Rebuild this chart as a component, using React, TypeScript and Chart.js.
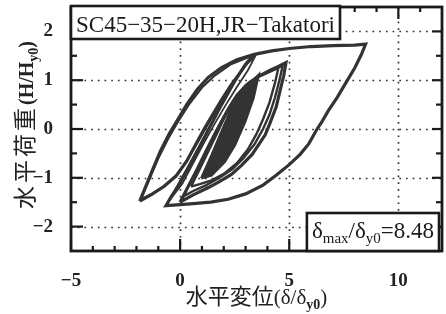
import { useEffect, useRef } from 'react';
import { Chart, registerables } from 'chart.js';
Chart.register(...registerables);

// Axis ticks
const xTickLabels = [-5, 0, 5, 10];
const yTickLabels = [-2, -1, 0, 1, 2];
const xMinorTicks = [-4, -3, -2, -1, 1, 2, 3, 4, 6, 7, 8, 9, 11];
const yMinorTicks = [-1.5, -0.5, 0.5, 1.5];
const xGrid = [0, 5, 10];
const yGrid = [-2, -1, 0, 1, 2];

// Loop A: left loop outer + big excursion to 8.48
const loopAX = [-1.85, -1.55, -1.25, -0.9, -0.5, -0.1, 0.3, 0.8, 1.3, 1.9, 2.6, 3.4,
  4.2, 5.0, 6.0, 7.0, 8.0, 8.5,
  8.3, 8.0, 7.6, 7.2, 6.8, 6.5, 6.25, 5.9, 5.5, 5.0, 4.4, 3.8, 3.0, 2.2, 1.4, 0.6, 0.0, -0.65,
  -0.4, -0.1, 0.35, 0.82, 1.35, 1.9, 2.5, 3.0, 3.4,
  3.1, 2.7, 2.3, 1.9, 1.5, 1.1, 0.7, 0.3, -0.2, -0.75, -1.3, -1.85];
const loopAY = [-1.48, -1.15, -0.82, -0.45, -0.1, 0.2, 0.5, 0.82, 1.06, 1.26, 1.42, 1.53,
  1.6, 1.65, 1.69, 1.71, 1.72, 1.74,
  1.52, 1.25, 0.95, 0.65, 0.38, 0.15, -0.02, -0.3, -0.52, -0.73, -0.95, -1.15, -1.33, -1.44, -1.5, -1.53, -1.55, -1.57,
  -1.38, -1.18, -0.82, -0.43, 0.03, 0.5, 0.98, 1.33, 1.53,
  1.38, 1.12, 0.88, 0.6, 0.3, 0.0, -0.33, -0.66, -0.97, -1.18, -1.34, -1.48];

// Loop B: second left loop
const loopBX = [-1.8, -1.4, -1.0, -0.55, -0.1, 0.4, 1.0, 1.6, 2.3, 3.3,
  2.9, 2.4, 1.9, 1.4, 0.9, 0.4, -0.1, -0.7, -1.25, -1.8];
const loopBY = [-1.44, -1.02, -0.6, -0.2, 0.15, 0.5, 0.85, 1.1, 1.32, 1.5,
  1.25, 0.95, 0.58, 0.2, -0.2, -0.58, -0.92, -1.17, -1.32, -1.44];

// Loop C: thin loop rising from the -0.65 tip
const loopCX = [-0.55, -0.2, 0.25, 0.75, 1.3, 1.85, 2.45, 2.95, 3.45,
  3.1, 2.6, 2.1, 1.6, 1.1, 0.6, 0.1, -0.55];
const loopCY = [-1.5, -1.22, -0.86, -0.45, 0.0, 0.46, 0.93, 1.28, 1.5,
  1.2, 0.86, 0.5, 0.12, -0.28, -0.7, -1.12, -1.5];

// Loop D: right group outer
const loopDX = [0.0, 0.4, 0.82, 1.2, 1.6, 2.0, 2.4, 2.8, 3.2, 3.6, 4.1, 4.5, 4.85,
  4.75, 4.6, 4.4, 4.1, 3.9, 3.6, 3.3, 2.8, 2.35, 1.8, 1.3, 0.6, 0.0];
const loopDY = [-1.5, -1.15, -0.8, -0.45, -0.1, 0.23, 0.54, 0.78, 0.96, 1.08, 1.2, 1.28, 1.36,
  1.1, 0.82, 0.45, 0.1, -0.12, -0.32, -0.52, -0.75, -0.93, -1.08, -1.2, -1.35, -1.5];

// Loop E: right group second
const loopEX = [0.15, 0.55, 0.95, 1.35, 1.75, 2.2, 2.6, 3.1, 3.6, 4.2, 4.7,
  4.55, 4.35, 4.1, 3.8, 3.4, 2.9, 2.4, 1.8, 1.2, 0.6, 0.15];
const loopEY = [-1.38, -1.02, -0.66, -0.3, 0.05, 0.42, 0.7, 0.93, 1.08, 1.2, 1.3,
  1.0, 0.65, 0.3, 0.0, -0.32, -0.6, -0.82, -1.0, -1.15, -1.27, -1.38];

// Loop F: right group third
const loopFX = [0.5, 0.9, 1.3, 1.7, 2.1, 2.5, 3.0, 3.5, 4.0, 4.5,
  4.35, 4.1, 3.8, 3.5, 3.1, 2.6, 2.0, 1.4, 0.9, 0.5];
const loopFY = [-1.18, -0.82, -0.45, -0.08, 0.3, 0.62, 0.9, 1.05, 1.15, 1.25,
  0.95, 0.55, 0.2, -0.1, -0.42, -0.7, -0.92, -1.06, -1.13, -1.18];

// Dense small cycles (filled band)
const denseX = [0.97, 1.44, 1.9, 2.36, 2.98, 3.6, 3.36, 2.98, 2.51, 2.05, 1.44, 0.97];
const denseY = [-1.01, -0.54, -0.05, 0.43, 0.84, 1.11, 0.63, 0.15, -0.33, -0.67, -0.95, -1.01];

const CURVE = '#333333';
const INK = '#1a1a1a';
const SERIF = '"Liberation Serif", "Times New Roman", serif';
const CJK = '"Noto Sans CJK JP", sans-serif';

type Run = { t: string; font: string; dy?: number; sp?: number };

function zip(xs: number[], ys: number[]) {
  return xs.map((x, i) => ({ x, y: ys[i] }));
}

function runsWidth(ctx: CanvasRenderingContext2D, runs: Run[]) {
  let w = 0;
  for (const r of runs) {
    ctx.font = r.font;
    for (const ch of Array.from(r.t)) w += ctx.measureText(ch).width + (r.sp || 0);
  }
  return w;
}

function drawRuns(ctx: CanvasRenderingContext2D, runs: Run[], x: number, y: number) {
  let cx = x;
  ctx.textBaseline = 'alphabetic';
  ctx.textAlign = 'left';
  for (const r of runs) {
    ctx.font = r.font;
    if (r.sp) {
      for (const ch of Array.from(r.t)) {
        ctx.fillText(ch, cx, y + (r.dy || 0));
        cx += ctx.measureText(ch).width + r.sp;
      }
    } else {
      ctx.fillText(r.t, cx, y + (r.dy || 0));
      cx += ctx.measureText(r.t).width;
    }
  }
}

const xTitle: Run[] = [
  { t: '水平変位', font: `22px ${CJK}` },
  { t: '(δ/δ', font: `21px ${SERIF}` },
  { t: 'y0', font: `bold 14px ${SERIF}`, dy: 5 },
  { t: ')', font: `21px ${SERIF}` },
];
const yTitle: Run[] = [
  { t: '水平荷重', font: `23px ${CJK}`, sp: 3 },
  { t: '(H/H', font: `bold 20px ${SERIF}` },
  { t: 'y0', font: `bold 14px ${SERIF}`, dy: 5 },
  { t: ')', font: `bold 20px ${SERIF}` },
];
const specimen = 'SC45−35−20H,JR−Takatori';
const ratio: Run[] = [
  { t: 'δ', font: `23px ${SERIF}` },
  { t: 'max', font: `15px ${SERIF}`, dy: 5 },
  { t: '/δ', font: `23px ${SERIF}` },
  { t: 'y0', font: `15px ${SERIF}`, dy: 5 },
  { t: '=8.48', font: `23px ${SERIF}` },
];

const decor = {
  id: 'decor',
  beforeDatasetsDraw(chart: any) {
    const { ctx, chartArea: a, scales } = chart;
    const xs = scales.x, ys = scales.y;
    ctx.save();
    ctx.strokeStyle = '#333';
    ctx.lineWidth = 1.7;
    ctx.setLineDash([1.7, 5]);
    for (const v of xGrid) {
      const px = Math.round(xs.getPixelForValue(v)) + 0.5;
      ctx.beginPath(); ctx.moveTo(px, a.bottom); ctx.lineTo(px, a.top); ctx.stroke();
    }
    for (const v of yGrid) {
      const py = Math.round(ys.getPixelForValue(v)) + 0.5;
      ctx.beginPath(); ctx.moveTo(a.left, py); ctx.lineTo(a.right, py); ctx.stroke();
    }
    ctx.restore();
  },
  afterDatasetsDraw(chart: any) {
    const { ctx, chartArea: a, scales } = chart;
    const xs = scales.x, ys = scales.y;
    ctx.save();
    ctx.strokeStyle = INK;
    ctx.fillStyle = INK;
    ctx.setLineDash([]);
    // ticks (inward, all four sides)
    ctx.lineWidth = 2.2;
    const tick = (px: number, py: number, dx: number, dy: number) => {
      ctx.beginPath(); ctx.moveTo(px, py); ctx.lineTo(px + dx, py + dy); ctx.stroke();
    };
    for (const v of xTickLabels) {
      const px = xs.getPixelForValue(v);
      tick(px, a.bottom, 0, -12); tick(px, a.top, 0, 12);
    }
    for (const v of xMinorTicks) {
      const px = xs.getPixelForValue(v);
      tick(px, a.bottom, 0, -5); tick(px, a.top, 0, 5);
    }
    for (const v of yTickLabels) {
      const py = ys.getPixelForValue(v);
      tick(a.left, py, 12, 0); tick(a.right, py, -10, 0);
    }
    for (const v of yMinorTicks) {
      const py = ys.getPixelForValue(v);
      tick(a.left, py, 6, 0); tick(a.right, py, -6, 0);
    }
    // frame
    ctx.lineWidth = 2.8;
    ctx.strokeRect(a.left, a.top, a.right - a.left, a.bottom - a.top);

    // specimen box
    ctx.font = `23px ${SERIF}`;
    const sw = ctx.measureText(specimen).width;
    const bx = a.left, by = a.top - 1, bw = sw + 10, bh = 33;
    ctx.fillStyle = '#fff';
    ctx.fillRect(bx, by, bw, bh);
    ctx.strokeStyle = INK; ctx.lineWidth = 2.6;
    ctx.strokeRect(bx, by, bw, bh);
    ctx.fillStyle = INK;
    ctx.textBaseline = 'alphabetic'; ctx.textAlign = 'left';
    ctx.fillText(specimen, bx + 5, by + 26);

    // ratio box
    const rw = runsWidth(ctx, ratio);
    const rbw = rw + 10, rbh = 38;
    const rbx = a.right - 3 - rbw, rby = a.bottom - rbh;
    ctx.fillStyle = '#fff';
    ctx.fillRect(rbx, rby, rbw, rbh);
    ctx.strokeRect(rbx, rby, rbw, rbh);
    ctx.fillStyle = INK;
    drawRuns(ctx, ratio, rbx + 5, rby + 25);

    // axis titles
    ctx.fillStyle = '#222';
    const xw = runsWidth(ctx, xTitle);
    drawRuns(ctx, xTitle, (a.left + a.right) / 2 - xw / 2, 304);
    ctx.save();
    ctx.translate(33, (a.top + a.bottom) / 2 - 4);
    ctx.rotate(-Math.PI / 2);
    const yw = runsWidth(ctx, yTitle);
    drawRuns(ctx, yTitle, -yw / 2, 0);
    ctx.restore();
    ctx.restore();
  },
};

const fmt = (v: number) => (v < 0 ? '−' + Math.abs(v) : String(v));

export default function App() {
  const ref = useRef<HTMLCanvasElement>(null);
  useEffect(() => {
    document.body.style.margin = '0';
    const line = (xs: number[], ys: number[], w: number) => ({
      data: zip(xs, ys), borderColor: CURVE, borderWidth: w, pointRadius: 0, fill: false, tension: 0,
    });
    const chart = new Chart(ref.current!, {
      type: 'line',
      data: {
        datasets: [
          { ...line(denseX, denseY, 2.5), fill: 'shape', backgroundColor: CURVE } as any,
          line(loopFX, loopFY, 2.4),
          line(loopEX, loopEY, 2.4),
          line(loopDX, loopDY, 3.2),
          line(loopCX, loopCY, 1.8),
          line(loopBX, loopBY, 2.2),
          line(loopAX, loopAY, 3.2),
        ],
      },
      options: {
        animation: false,
        responsive: false,
        layout: { padding: { top: 7, right: 4, left: 0, bottom: 0 } },
        plugins: { legend: { display: false }, tooltip: { enabled: false } },
        scales: {
          x: {
            type: 'linear', min: -5, max: 12,
            afterBuildTicks: (s: any) => { s.ticks = xTickLabels.map((v) => ({ value: v })); },
            afterFit: (s: any) => { s.height = 63; s.paddingLeft = 0; s.paddingRight = 0; },
            grid: { display: false }, border: { display: false },
            ticks: { padding: 11, color: '#222', font: { family: SERIF, size: 19, weight: 'bold' }, callback: (v: any) => fmt(Number(v)) },
          },
          y: {
            type: 'linear', min: -2.5, max: 2.5,
            afterBuildTicks: (s: any) => { s.ticks = yTickLabels.map((v) => ({ value: v })); },
            afterFit: (s: any) => { s.width = 71; s.paddingTop = 0; s.paddingBottom = 0; },
            grid: { display: false }, border: { display: false },
            ticks: { padding: 10, color: '#222', font: { family: SERIF, size: 19, weight: 'bold' }, callback: (v: any) => fmt(Number(v)) },
          },
        },
      } as any,
      plugins: [decor],
    });
    return () => chart.destroy();
  }, []);
  return (
    <div style={{ width: 446, height: 314, background: '#fff' }}>
      <canvas ref={ref} width={446} height={314} style={{ display: 'block' }} />
    </div>
  );
}
